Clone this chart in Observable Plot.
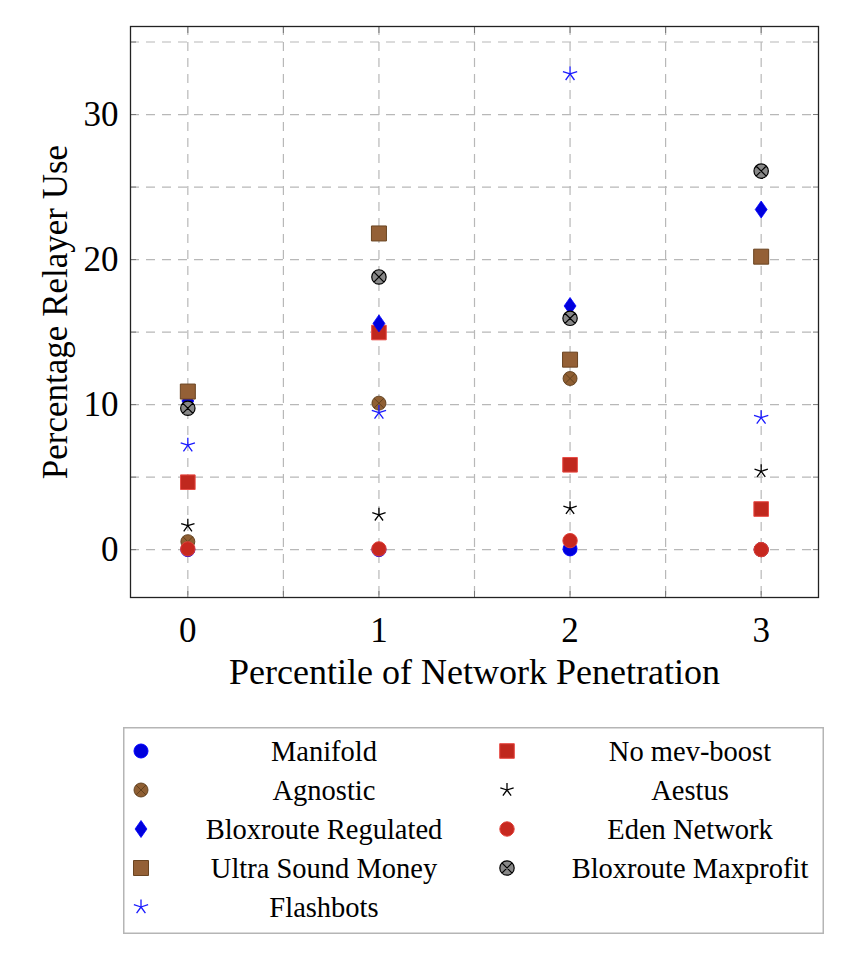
<!DOCTYPE html>
<html><head><meta charset="utf-8">
<script src="https://cdn.jsdelivr.net/npm/d3@7"></script>
<script src="https://cdn.jsdelivr.net/npm/@observablehq/plot@0.6"></script>
<style>
body{margin:0;background:#fff;}
#wrap{position:relative;width:858px;height:956px;overflow:hidden;}
#legend{position:absolute;left:123px;top:727px;}
</style></head><body><div id="wrap"><div id="chart"></div><div id="legend"></div></div>
<script>
// ---- data ----
const penetration = [0, 1, 2, 3];
const manifold = [0, 0, 0.05, 0];
const noMevBoost = [4.65, 14.97, 5.85, 2.8];
const agnostic = [0.55, 10.1, 11.8, 0];
const aestus = [1.65, 2.4, 2.85, 5.4];
const bloxrouteRegulated = [10.25, 15.6, 16.8, 23.45];
const edenNetwork = [0.05, 0.05, 0.62, 0];
const ultraSoundMoney = [10.9, 21.8, 13.1, 20.2];
const bloxrouteMaxprofit = [9.75, 18.8, 15.95, 26.1];
const flashbots = [7.2, 9.45, 32.8, 9.1];
const xTicks = [0, 1, 2, 3];
const yTicks = [0, 10, 20, 30];
const xGrid = [0, 0.5, 1, 1.5, 2, 2.5, 3];
const yGrid = [0, 5, 10, 15, 20, 25, 30, 35];
const xLabel = "Percentile of Network Penetration";
const yLabel = "Percentage Relayer Use";

// ---- symbols ----
const rOf = s => Math.sqrt(s / Math.PI);
const symCircle = {draw(c, s){const r = rOf(s); c.moveTo(r, 0); c.arc(0, 0, r, 0, 2 * Math.PI); c.closePath();}};
const symSquare = {draw(c, s){const r = rOf(s); c.rect(-r, -r, 2 * r, 2 * r);}};
const symDiamond = {draw(c, s){const r = rOf(s); c.moveTo(0, -r); c.lineTo(0.7 * r, 0); c.lineTo(0, r); c.lineTo(-0.7 * r, 0); c.closePath();}};
const symStar = {draw(c, s){const r = rOf(s); for (let i = 0; i < 5; i++){const a = -Math.PI / 2 + i * 2 * Math.PI / 5; c.moveTo(0, 0); c.lineTo(r * Math.cos(a), r * Math.sin(a));}}};
const symOtimes = {draw(c, s){const r = rOf(s); c.moveTo(r, 0); c.arc(0, 0, r, 0, 2 * Math.PI); c.closePath(); const k = r * Math.SQRT1_2; c.moveTo(-k, -k); c.lineTo(k, k); c.moveTo(-k, k); c.lineTo(k, -k);}};

// draw order = pgfplots order
const series = [
  {name: "Manifold", values: manifold, symbol: symCircle, r: 7, fill: "#0000dd", stroke: "#0000ff", sw: 1},
  {name: "No mev-boost", values: noMevBoost, symbol: symSquare, r: 7.3, fill: "#c0281e", stroke: "#e84a44", sw: 1},
  {name: "Agnostic", values: agnostic, symbol: symOtimes, r: 7, fill: "#8f5f33", stroke: "#5e3d1c", sw: 0.9},
  {name: "Aestus", values: aestus, symbol: symStar, r: 7, fill: "none", stroke: "#000", sw: 1.3},
  {name: "Bloxroute Regulated", values: bloxrouteRegulated, symbol: symDiamond, r: 8.5, fill: "#0000dd", stroke: "#0000ff", sw: 0.8},
  {name: "Eden Network", values: edenNetwork, symbol: symCircle, r: 7.2, fill: "#c7281f", stroke: "#e04038", sw: 1},
  {name: "Ultra Sound Money", values: ultraSoundMoney, symbol: symSquare, r: 7.5, fill: "#946036", stroke: "#6a4421", sw: 1},
  {name: "Bloxroute Maxprofit", values: bloxrouteMaxprofit, symbol: symOtimes, r: 7.2, fill: "#888888", stroke: "#000", sw: 1.2},
  {name: "Flashbots", values: flashbots, symbol: symStar, r: 7.5, fill: "none", stroke: "#1a1aff", sw: 1.3}
];

const font = "'Liberation Serif', 'Times New Roman', serif";
const dotMarks = series.map(s => Plot.dot(
  penetration.map((x, i) => ({x, y: s.values[i], name: s.name})),
  {x: "x", y: "y", symbol: s.symbol, r: s.r, fill: s.fill, stroke: s.stroke, strokeWidth: s.sw}
));

const chart = Plot.plot({
  width: 858, height: 700,
  marginLeft: 130, marginRight: 40, marginTop: 26, marginBottom: 103,
  style: {fontFamily: font, fontSize: "35px", color: "#000", background: "#fff"},
  x: {domain: [-0.3, 3.3]},
  y: {domain: [-3.3, 36.07]},
  marks: [
    Plot.ruleX(xGrid, {x: d => d, stroke: "#b8b8b8", strokeWidth: 1.2, strokeDasharray: "9,7"}),
    Plot.ruleY(yGrid, {y: d => d, stroke: "#b8b8b8", strokeWidth: 1.2, strokeDasharray: "9,7"}),
    Plot.axisX({anchor: "bottom", ticks: xGrid, tickSize: 6, dy: -6, tickFormat: () => "", label: null, stroke: "#777"}),
    Plot.axisX({anchor: "top", ticks: xGrid, tickSize: 6, dy: 6, tickFormat: () => "", label: null, stroke: "#777"}),
    Plot.axisY({anchor: "left", ticks: yGrid, tickSize: 6, dx: 6, tickFormat: () => "", label: null, stroke: "#777"}),
    Plot.axisY({anchor: "right", ticks: yGrid, tickSize: 6, dx: -6, tickFormat: () => "", label: null, stroke: "#777"}),
    Plot.axisX({anchor: "bottom", ticks: xTicks, tickSize: 0, tickPadding: 20, tickFormat: d => String(d), label: null}),
    Plot.axisY({anchor: "left", ticks: yTicks, tickSize: 0, tickPadding: 12, tickFormat: d => String(d), label: null}),
    Plot.frame({stroke: "#222", strokeWidth: 1.3}),
    ...dotMarks,
    Plot.text([xLabel], {text: d => d, frameAnchor: "bottom", dy: 75, lineAnchor: "middle", textAnchor: "middle", fontSize: 36, fill: "#000"}),
    Plot.text([yLabel], {text: d => d, frameAnchor: "left", dx: -75, rotate: -90, lineAnchor: "middle", textAnchor: "middle", fontSize: 35, fill: "#000"})
  ]
});
document.getElementById("chart").appendChild(chart);

// ---- legend ----
const legendOrder = ["Manifold", "Agnostic", "Bloxroute Regulated", "Ultra Sound Money", "Flashbots",
                     "No mev-boost", "Aestus", "Eden Network", "Bloxroute Maxprofit"];
const LW = 701, LH = 207;
const lsvg = d3.select("#legend").append("svg").attr("width", LW).attr("height", LH)
  .style("font-family", font).style("font-size", "28.5px");
lsvg.append("rect").attr("x", 0.75).attr("y", 0.75).attr("width", LW - 1.5).attr("height", LH - 1.5)
  .attr("fill", "#fff").attr("stroke", "#b5b5b5").attr("stroke-width", 1.5);
const rowY = [24, 63, 102, 141, 180];
legendOrder.forEach((name, k) => {
  const s = series.find(d => d.name === name);
  const col = k < 5 ? 0 : 1, row = k < 5 ? k : k - 5;
  const mx = col === 0 ? 18 : 384, tx = col === 0 ? 201 : 567;
  const y = rowY[row];
  lsvg.append("path").attr("transform", `translate(${mx},${y})`)
    .attr("d", d3.symbol(s.symbol, Math.PI * s.r * s.r)())
    .attr("fill", s.fill).attr("stroke", s.stroke).attr("stroke-width", s.sw);
  lsvg.append("text").attr("x", tx).attr("y", y).attr("text-anchor", "middle")
    .attr("dominant-baseline", "central").text(name);
});
</script></body></html>
